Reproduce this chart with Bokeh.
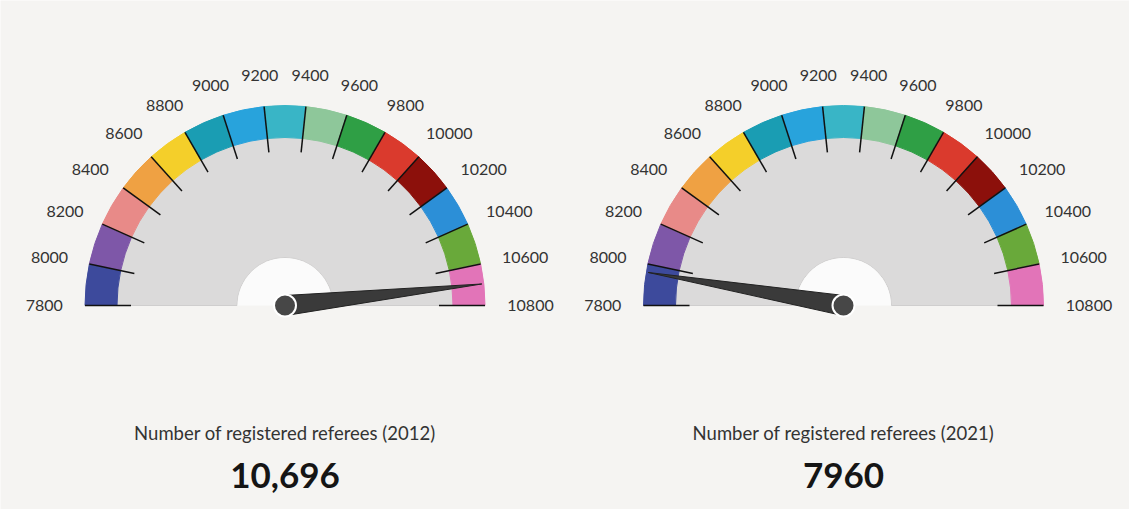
import math
from bokeh.plotting import figure
from bokeh.models import Range1d
from bokeh.core.properties import value
from bokeh.embed import file_html
from bokeh.resources import INLINE

# ---- data ----
tick_values = [7800, 8000, 8200, 8400, 8600, 8800, 9000, 9200, 9400,
               9600, 9800, 10000, 10200, 10400, 10600, 10800]
tick_labels = [str(v) for v in tick_values]
band_colors = ["#3d4a9c", "#7e57a8", "#e88a88", "#efa143", "#f4cf2a",
               "#1a9db3", "#28a3dc", "#39b5c6", "#8ec79a", "#2f9f45",
               "#da3a2d", "#8c100b", "#2c8fd7", "#69a93a", "#e274b8"]
gauge_titles = ["Number of registered referees (2012)",
                "Number of registered referees (2021)"]
gauge_values = [10696, 7960]
value_labels = ["10,696", "7960"]

# ---- layout (screen px; data y = 525 - screen y) ----
BG = "#f5f4f2"
W, H = 1129, 509
centers_x = [292.5, 851.0]
center_y = 525 - 313
R_OUT, R_IN, R_HOLE = 200, 168, 48
VMIN, VMAX = tick_values[0], tick_values[-1]


def ang(v):
    return math.pi * (1 - (v - VMIN) / (VMAX - VMIN))


p = figure(width=W, height=H, x_range=Range1d(8, 8 + W), y_range=Range1d(8, 8 + H),
           output_backend="svg", toolbar_location=None, min_border=0,
           background_fill_color=BG, border_fill_color=BG, outline_line_color=None)
p.axis.visible = False
p.grid.visible = False

for gi, cx in enumerate(centers_x):
    cy = center_y
    # gray body
    p.annular_wedge(x=cx, y=cy, inner_radius=R_HOLE, outer_radius=R_IN,
                    start_angle=0, end_angle=math.pi, fill_color="#dbdada",
                    line_color="#cfcece", line_width=1)
    p.wedge(x=cx, y=cy, radius=R_HOLE - 0.5, start_angle=0, end_angle=math.pi,
            fill_color="#fbfbfb", line_color=None)
    # colored band
    starts = [ang(tick_values[i + 1]) for i in range(len(band_colors))]
    ends = [ang(tick_values[i]) for i in range(len(band_colors))]
    p.annular_wedge(x=[cx] * len(band_colors), y=[cy] * len(band_colors),
                    inner_radius=R_IN, outer_radius=R_OUT,
                    start_angle=starts, end_angle=ends, color=band_colors)
    # ticks
    x0, y0, x1, y1 = [], [], [], []
    for v in tick_values:
        a = ang(v)
        x0.append(cx + R_OUT * math.cos(a)); y0.append(cy + R_OUT * math.sin(a))
        x1.append(cx + 154 * math.cos(a)); y1.append(cy + 154 * math.sin(a))
    p.segment(x0=x0, y0=y0, x1=x1, y1=y1, line_color="#111111", line_width=1.5)
    # tick labels
    lx, ly = [], []
    for v, lab in zip(tick_values, tick_labels):
        a = ang(v)
        w = len(lab) * 9.4
        lx.append(cx + 222 * math.cos(a) + math.cos(a) * w / 2)
        ly.append(cy + 222 * math.sin(a) + math.sin(a) * 9)
    p.text(x=lx, y=ly, text=tick_labels, text_align="center", text_baseline="middle",
           text_font=value("Lato"), text_font_size="16px", text_color="#333333")
    # needle
    a = ang(gauge_values[gi])
    tipx, tipy = cx + 198 * math.cos(a), cy + 198 * math.sin(a)
    px, py = -math.sin(a), math.cos(a)
    hw = 10
    p.patch(x=[cx + px * hw, tipx, cx - px * hw],
            y=[cy + py * hw, tipy, cy - py * hw],
            fill_color="#3a3a3a", line_color="#222222", line_width=1)
    p.circle(x=[cx], y=[cy], radius=11, fill_color="#474747",
             line_color="#ffffff", line_width=2)
    # titles
    p.text(x=[cx], y=[525 - 440], text=[gauge_titles[gi]], text_align="center",
           text_baseline="middle", text_font=value("Lato"), text_font_size="18.5px",
           text_color="#333333")
    p.text(x=[cx], y=[525 - 483], text=[value_labels[gi]], text_align="center",
           text_baseline="middle", text_font=value("Lato"), text_font_size="35px",
           text_font_style="bold", text_color="#151515")

open("out.html", "w").write(file_html(p, INLINE))
